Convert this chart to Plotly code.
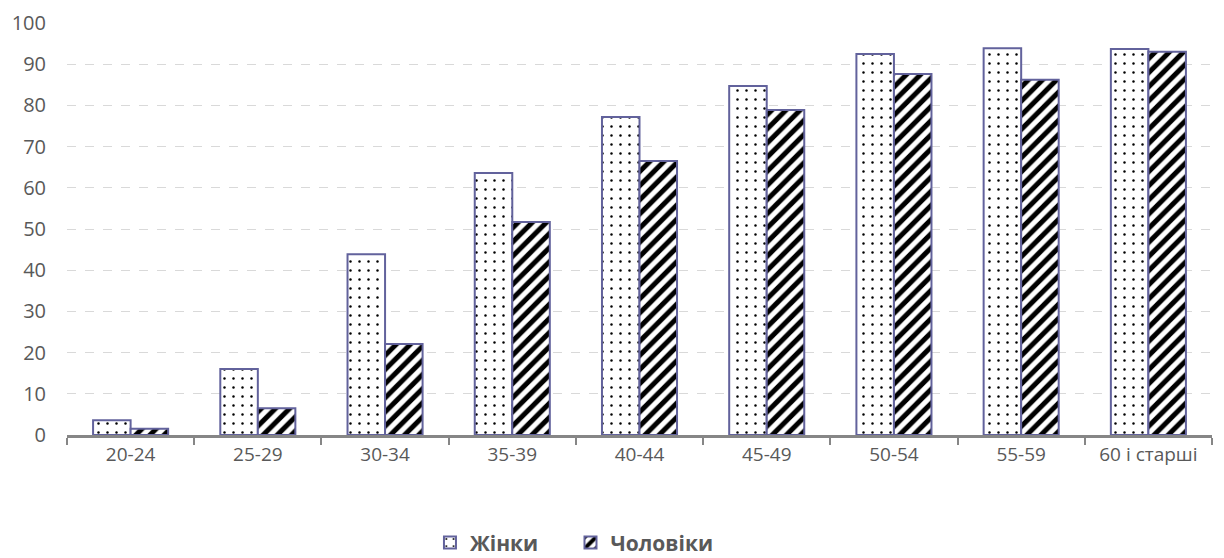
import plotly.graph_objects as go

categories = ["20-24", "25-29", "30-34", "35-39", "40-44", "45-49", "50-54", "55-59", "60 і старші"]
women = [3.6, 16.0, 43.9, 63.6, 77.2, 84.7, 92.5, 93.9, 93.7]
men = [1.5, 6.5, 22.1, 51.7, 66.5, 78.9, 87.6, 86.2, 93.0]
y_ticks = [0, 10, 20, 30, 40, 50, 60, 70, 80, 90, 100]

outline = "#62629C"
pad = "\u00a0" * 5

fig = go.Figure()
fig.add_trace(go.Bar(
    name="<b>Жінки</b>" + pad, x=categories, y=women,
    marker=dict(color="white", line=dict(color=outline, width=2),
                pattern=dict(shape=".", fgcolor="black", bgcolor="white", fgopacity=1,
                             size=9, solidity=0.06)),
))
fig.add_trace(go.Bar(
    name="<b>Чоловіки</b>", x=categories, y=men,
    marker=dict(color="white", line=dict(color=outline, width=2),
                pattern=dict(shape="/", fgcolor="black", bgcolor="white", fgopacity=1,
                             size=10, solidity=0.5)),
))

fig.update_layout(
    width=1216, height=550,
    margin=dict(l=59, r=12, t=15, b=123, autoexpand=False),
    paper_bgcolor="white", plot_bgcolor="white",
    barmode="group", bargap=0.41, bargroupgap=0,
    font=dict(family="Open Sans", color="#595959", size=18),
    legend=dict(orientation="h", x=0.317, xanchor="left", y=-0.262, yanchor="middle",
                font=dict(size=21, color="#595959", family="Open Sans"),
                traceorder="normal"),
    showlegend=True,
)
fig.update_xaxes(
    showline=True, linecolor="#868686", linewidth=2.5, automargin=False,
    ticks="outside", tickson="boundaries", ticklen=7, tickwidth=1.5, tickcolor="#868686",
    showgrid=False, tickfont=dict(size=19, color="#595959"),
)
fig.update_yaxes(
    range=[0, 100], tickvals=y_ticks, showline=False, automargin=False,
    showgrid=True, gridcolor="#D9D9D9", griddash="dash", gridwidth=1.2,
    zeroline=False, tickfont=dict(size=20, color="#595959"), ticklabelstandoff=20,
)

fig.write_html("out.html")
